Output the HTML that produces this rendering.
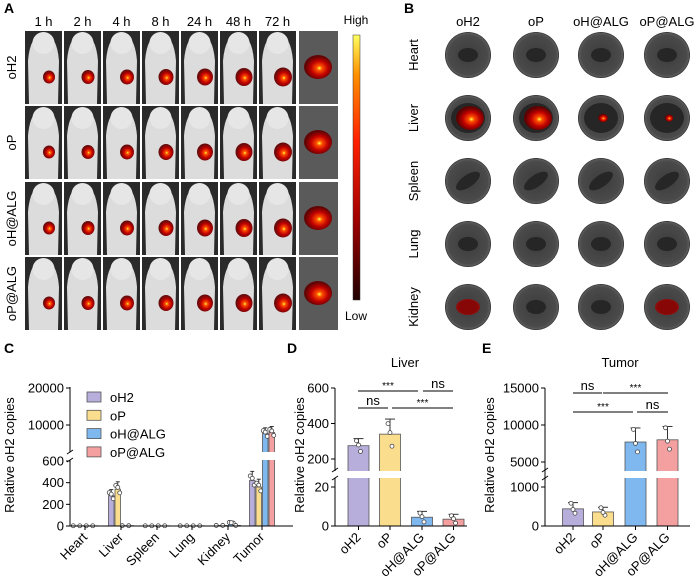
<!DOCTYPE html>
<html><head><meta charset="utf-8"><style>
body{margin:0;background:#fff;}
svg{display:block;font-family:"Liberation Sans",Arial,sans-serif;}
</style></head><body>
<svg id="s" width="700" height="584" viewBox="0 0 700 584" xmlns="http://www.w3.org/2000/svg">
<defs>
<radialGradient id="hot" cx="55%" cy="55%" r="50%"><stop offset="0" stop-color="#ffff40"/><stop offset="0.2" stop-color="#ff5000"/><stop offset="0.6" stop-color="#c00000"/><stop offset="1" stop-color="#600000" stop-opacity="0.95"/></radialGradient>
<linearGradient id="cbar" x1="0" y1="1" x2="0" y2="0"><stop offset="0" stop-color="#200000"/><stop offset="0.3" stop-color="#a00000"/><stop offset="0.6" stop-color="#ff2000"/><stop offset="0.85" stop-color="#ff9000"/><stop offset="1" stop-color="#ffff60"/></linearGradient>
<radialGradient id="dish"><stop offset="0" stop-color="#3c3c3c"/><stop offset="0.85" stop-color="#4a4a4a"/><stop offset="0.95" stop-color="#5a5a5a"/><stop offset="1" stop-color="#222"/></radialGradient>
</defs>
<g id="A"></g>
<g id="B"></g>
<g id="C"></g>
<g id="D"></g>
<g id="E"></g>
</svg>
<script>
const times=["1 h","2 h","4 h","8 h","24 h","48 h","72 h"];
const rowsA=["oH2","oP","oH@ALG","oP@ALG"];
const organs=["Heart","Liver","Spleen","Lung","Kidney"];
const groups=["oH2","oP","oH@ALG","oP@ALG"];
const colors=["#b7aedc","#fbdd8e","#7fb8ef","#f4a0a0"];
const cCats=["Heart","Liver","Spleen","Lung","Kidney","Tumor"];
const cOH2=[2,280,2,2,5,420];
const cOP=[2,340,2,2,5,360];
const cOHALG=[2,3,2,2,30,7700];
const cOPALG=[2,3,2,2,5,8000];
const dVals=[275,340,4.5,3.5];
const dErr=[40,85,3,2.5];
const eVals=[440,360,7700,8000];
const eErr=[160,120,1900,1800];
const NS="http://www.w3.org/2000/svg";
function mk(p,t,a,txt){const e=document.createElementNS(NS,t);for(const k in a)e.setAttribute(k,a[k]);if(txt!==undefined)e.textContent=txt;p.appendChild(e);return e;}
const A=document.getElementById('A'),B=document.getElementById('B'),C=document.getElementById('C'),D=document.getElementById('D'),E=document.getElementById('E');
// Panel A
let t=mk(A,'text',{x:4,y:13,'font-size':14,'font-weight':'bold'},'A');
const rowY=[31,106,182,257],rowH=73;
times.forEach((tm,i)=>{const x=25+i*39;let l=mk(A,'text',{x:x+18.5,y:26,'font-size':13,'text-anchor':'middle'},tm);});
rowsA.forEach((r,j)=>{const y=rowY[j];
 let l=mk(A,'text',{transform:`translate(16,${y+rowH/2}) rotate(-90)`,'font-size':13,'text-anchor':'middle'},r);
 for(let i=0;i<7;i++){const x=25+i*39;const g=mk(A,'g',{});
  mk(g,'rect',{x:x,y:y,width:37,height:rowH,fill:'#2a2a2a'});
  mk(g,'path',{d:`M${x+4},${y+rowH} L${x+3},${y+30} Q${x+5},${y+4} ${x+18.5},${y+2} Q${x+32},${y+4} ${x+34},${y+30} L${x+33},${y+rowH} Z`,fill:'#dcdcdc'});
  mk(g,'ellipse',{cx:x+18.5,cy:y+12,rx:11,ry:11,fill:'#e6e6e6'});
  mk(g,'ellipse',{cx:x+24,cy:y+46,rx:6+i*0.5,ry:6.5+i*0.5,fill:'url(#hot)'});}
 const g=mk(A,'g',{});
 mk(g,'rect',{x:299,y:y,width:39,height:rowH,fill:'#5a5a5a'});
 mk(g,'ellipse',{cx:318,cy:y+36,rx:14,ry:12,fill:'url(#hot)'});
});
let cb=mk(A,'rect',{x:353,y:35,width:7,height:265,fill:'url(#cbar)',stroke:'#333','stroke-width':0.5});
t=mk(A,'text',{x:356,y:24,'font-size':12,'text-anchor':'middle'},'High');
t=mk(A,'text',{x:356,y:320,'font-size':12,'text-anchor':'middle'},'Low');
// Panel B
t=mk(B,'text',{x:404,y:13,'font-size':14,'font-weight':'bold'},'B');
const bx=[468,536,601,667],by=[55,118,181,244,307];
groups.forEach((g,i)=>{let l=mk(B,'text',{x:bx[i],y:26,'font-size':13,'text-anchor':'middle'},g);});
organs.forEach((o,j)=>{let l=mk(B,'text',{transform:`translate(418,${by[j]}) rotate(-90)`,'font-size':13,'text-anchor':'middle'},o);
 bx.forEach((x,i)=>{const g=mk(B,'g',{});
  mk(g,'circle',{cx:x,cy:by[j],r:23,fill:'url(#dish)'});
  mk(g,'ellipse',{cx:x,cy:by[j],rx:j==1?17:(j==2?14:10),ry:j==1?15:(j==2?6:7),fill:'#262626',transform:j==2?`rotate(-35 ${x} ${by[j]})`:''});
  if(j==1){const s=[1,1,0.35,0.3][i];mk(g,'ellipse',{cx:x+2,cy:by[j],rx:14*s,ry:12*s,fill:'url(#hot)'});}
  if(j==4&&(i==0||i==3)){mk(g,'ellipse',{cx:x,cy:by[j],rx:12,ry:8,fill:'#a00000',opacity:0.8});}
 });});
function yLabel(p,x,y){let l=mk(p,'text',{transform:`translate(${x},${y}) rotate(-90)`,'font-size':13,'text-anchor':'middle'},'Relative oH2 copies');}
function tick(p,x,y,lab){mk(p,'line',{x1:x-4,y1:y,x2:x,y2:y,stroke:'#000'});let l=mk(p,'text',{x:x-6,y:y+4.5,'font-size':13,'text-anchor':'end'},lab);}
function breakMark(p,x,yb,yt){mk(p,'rect',{x:x-8,y:yt,width:400,height:yb-yt,fill:'#fff'});mk(p,'line',{x1:x-3,y1:yb+2,x2:x+3,y2:yb-2,stroke:'#000'});mk(p,'line',{x1:x-3,y1:yt+2,x2:x+3,y2:yt-2,stroke:'#000'});}
function xLab(p,x,y,lab){let l=mk(p,'text',{transform:`translate(${x+3},${y}) rotate(-45)`,'font-size':13,'text-anchor':'end'},lab);}
function bar(p,x,w,y0,y1,c){let r=mk(p,'rect',{x:x-w/2,y:y1,width:w,height:y0-y1,fill:c,stroke:'#555','stroke-width':0.8});}
function errb(p,x,yt,yb,w){mk(p,'line',{x1:x,y1:yt,x2:x,y2:yb,stroke:'#333'});mk(p,'line',{x1:x-w,y1:yt,x2:x+w,y2:yt,stroke:'#333'});}
function dots(p,x,ys){ys.forEach((y,k)=>{mk(p,'circle',{cx:x+[-2,2,0][k],cy:y,r:2,fill:'#fff',stroke:'#444','stroke-width':0.8});});}
function sig(p,x1,x2,y,lab){mk(p,'line',{x1:x1,y1:y,x2:x2,y2:y,stroke:'#000'});let l=mk(p,'text',{x:(x1+x2)/2,y:lab=='ns'?y-3:y-2,'font-size':lab=='ns'?13:10,'text-anchor':'middle'},lab);}
// Panel C
t=mk(C,'text',{x:4,y:353,'font-size':14,'font-weight':'bold'},'C');
function yC(v){return v<=600?526-v*65/600:462-v*37/10000;}
const cx0=[85,121,157,192,228,262],series=[cOH2,cOP,cOHALG,cOPALG];
series.forEach((s,k)=>s.forEach((v,i)=>{const x=cx0[i]+(k-1.5)*6.5;bar(C,x,5.5,526,yC(v),colors[k]);if(v>10){const e=v*0.2;errb(C,x,yC(v+e),yC(v),2);dots(C,x,[yC(v*1.1),yC(v*0.9),yC(v*1.05)]);}else dots(C,x,[yC(v)]);}));
mk(C,'line',{x1:70,y1:387,x2:70,y2:526,stroke:'#000'});mk(C,'line',{x1:70,y1:526,x2:293,y2:526,stroke:'#000'});
breakMark(C,70,460,452);
[[0,'0'],[200,'200'],[400,'400'],[600,'600'],[10000,'10000'],[20000,'20000']].forEach(a=>tick(C,70,yC(a[0]),a[1]));
cCats.forEach((c,i)=>{mk(C,'line',{x1:cx0[i],y1:526,x2:cx0[i],y2:530,stroke:'#000'});xLab(C,cx0[i],538,c);});
yLabel(C,14,455);
groups.forEach((g,k)=>{const y=397+k*18.3;let r=mk(C,'rect',{x:87,y:y-5,width:14,height:10,fill:colors[k],stroke:'#555','stroke-width':0.8});let l=mk(C,'text',{x:110,y:y+5,'font-size':13},g);});
// Panel D
t=mk(D,'text',{x:287,y:353,'font-size':14,'font-weight':'bold'},'D');
function yD(v){return v<=20?526-v*39/20:459-(v-200)*71/400;}
const dx=[358.5,390,422,453.5];
dVals.forEach((v,i)=>{bar(D,dx[i],21,526,yD(v),colors[i]);errb(D,dx[i],yD(v+dErr[i]),yD(v),5);dots(D,dx[i],[yD(v+dErr[i]*0.7),yD(v-dErr[i]*0.8),yD(v+dErr[i]*0.1)]);});
mk(D,'line',{x1:335,y1:388,x2:335,y2:526,stroke:'#000'});mk(D,'line',{x1:335,y1:526,x2:467,y2:526,stroke:'#000'});
mk(D,'rect',{x:327,y:471,width:145,height:7,fill:'#fff'});mk(D,'line',{x1:332,y1:480,x2:338,y2:476,stroke:'#000'});mk(D,'line',{x1:332,y1:472,x2:338,y2:468,stroke:'#000'});
[[0,'0'],[20,'20'],[200,'200'],[400,'400'],[600,'600']].forEach(a=>tick(D,335,yD(a[0]),a[1]));
groups.forEach((g,i)=>{mk(D,'line',{x1:dx[i],y1:526,x2:dx[i],y2:530,stroke:'#000'});xLab(D,dx[i],538,g);});
yLabel(D,304,455);
t=mk(D,'text',{x:405,y:367,'font-size':13,'text-anchor':'middle'},'Liver');
sig(D,358,418,391,'***');sig(D,423,453,391,'ns');sig(D,358,388,408,'ns');sig(D,392,453,408,'***');
// Panel E
t=mk(E,'text',{x:482,y:353,'font-size':14,'font-weight':'bold'},'E');
function yE(v){return v<=1000?526-v*39/1000:462-(v-5000)*37/5000;}
const ex=[573,603,635.5,667.5];
eVals.forEach((v,i)=>{bar(E,ex[i],21,526,yE(v),colors[i]);errb(E,ex[i],yE(v+eErr[i]),yE(v),5);dots(E,ex[i],[yE(v+eErr[i]*0.9),yE(v-eErr[i]*0.7),yE(v-eErr[i]*0.1)]);});
mk(E,'rect',{x:537,y:471,width:160,height:7,fill:'#fff'});
mk(E,'line',{x1:545,y1:388,x2:545,y2:526,stroke:'#000'});mk(E,'line',{x1:545,y1:526,x2:690,y2:526,stroke:'#000'});
mk(E,'line',{x1:542,y1:480,x2:548,y2:476,stroke:'#000'});mk(E,'line',{x1:542,y1:472,x2:548,y2:468,stroke:'#000'});
[[0,'0'],[1000,'1000'],[5000,'5000'],[10000,'10000'],[15000,'15000']].forEach(a=>tick(E,545,yE(a[0]),a[1]));
groups.forEach((g,i)=>{mk(E,'line',{x1:ex[i],y1:526,x2:ex[i],y2:530,stroke:'#000'});xLab(E,ex[i],538,g);});
yLabel(E,494,455);
t=mk(E,'text',{x:620,y:367,'font-size':13,'text-anchor':'middle'},'Tumor');
sig(E,573,602,393,'ns');sig(E,603,668,393,'***');sig(E,573,633,412,'***');sig(E,637,668,412,'ns');
</script>
</body></html>
